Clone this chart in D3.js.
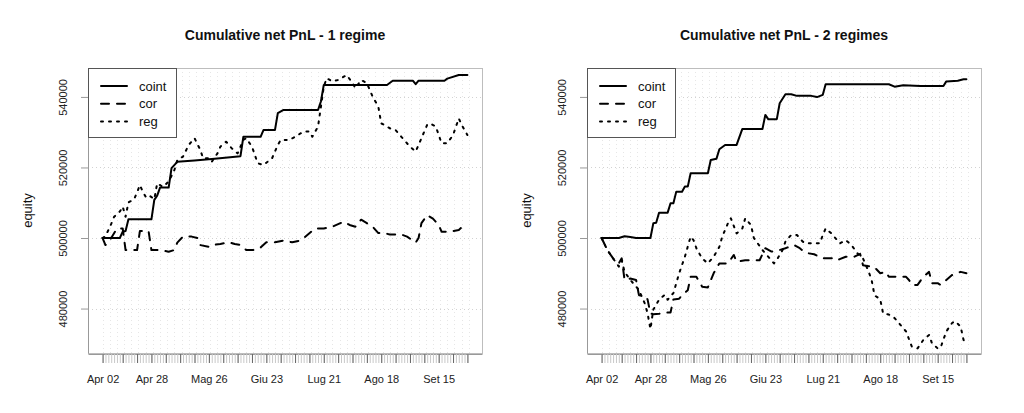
<!DOCTYPE html>
<html><head><meta charset="utf-8">
<script src="https://cdn.jsdelivr.net/npm/d3@7"></script>
<style>
body{margin:0;background:#fff}
svg{display:block}
text{font-family:"Liberation Sans",Arial,Helvetica,sans-serif}
</style>
</head><body>
<svg id="chart" width="1024" height="413"></svg>
<script>
// ---------- DATA ----------
const nObs = 128; // trading days, index 0..127
const tickIdx = [0, 17, 37, 57, 77, 97, 117];
const tickLabels = ["Apr 02", "Apr 28", "Mag 26", "Giu 23", "Lug 21", "Ago 18", "Set 15"];
const yTicks = [480000, 500000, 520000, 540000];
const yLimits = [467400, 548200];
const seriesNames = ["coint", "cor", "reg"];
const titles = ["Cumulative net PnL - 1 regime", "Cumulative net PnL - 2 regimes"];

// [trading-day index, equity]
const coint1 = [[0,500000],[6,500000],[7,501800],[8,502000],[9,505300],[17,505300],[18,510800],[19,512000],[20,514300],[23,514300],[24,519800],[26,521600],[32,522000],[39,522500],[48,523200],[49,528700],[55,528700],[56,530600],[60,530600],[61,535400],[63,536300],[75,536300],[76,538700],[77,543400],[99,543400],[101,544600],[108,544600],[109,543600],[110,544600],[119,544600],[120,545200],[124,546200],[127,546200]];
const cor1 = [[0,500000],[1,498000],[3,500000],[5,502700],[7,502700],[8,496600],[12,496600],[13,502000],[16,502000],[17,496600],[20,496600],[23,496100],[25,496600],[26,498700],[28,500400],[31,500400],[33,500000],[34,498000],[37,497500],[38,498000],[41,498300],[44,498800],[46,498300],[48,498000],[50,496600],[53,496600],[55,497300],[57,498800],[60,498800],[63,499300],[66,498800],[69,499300],[70,500000],[74,502700],[77,502700],[80,503200],[84,504650],[86,503700],[88,503200],[90,505200],[92,504200],[94,503200],[96,501400],[98,501400],[100,501000],[104,501000],[106,500400],[109,498700],[110,500000],[111,504200],[113,506500],[115,505500],[117,503700],[118,501800],[121,501800],[124,502300],[125,503000],[127,502600]];
const reg1 = [[0,500000],[1,500500],[3,504000],[4,506000],[6,507500],[7,508900],[8,506000],[9,510100],[11,511000],[13,515000],[14,513100],[15,511700],[16,512200],[18,511000],[19,515500],[21,514500],[23,516000],[25,519300],[26,522100],[28,523100],[30,526400],[32,528300],[34,525000],[35,522600],[37,522600],[38,521600],[40,524000],[41,525900],[43,527300],[45,525400],[47,524000],[49,527800],[50,528300],[52,525900],[54,521200],[56,520700],[59,522600],[61,526400],[62,527800],[65,527800],[67,528700],[70,530200],[72,530200],[73,528700],[75,531600],[76,537200],[77,542900],[78,545300],[80,544400],[82,544800],[85,546200],[87,543900],[88,542500],[90,544800],[92,543900],[94,540100],[96,537200],[97,532500],[98,532100],[100,531100],[102,530600],[104,528700],[107,525900],[109,524500],[110,526400],[113,532100],[114,532500],[116,531600],[118,526900],[120,526900],[122,529200],[124,533900],[125,532100],[127,529200]];

const coint2 = [[0,500000],[6,500000],[8,500500],[10,500300],[12,500000],[17,500000],[18,504160],[19,504300],[20,507190],[23,507190],[24,509840],[25,509840],[26,513150],[28,513150],[29,514570],[30,514570],[31,518350],[37,518350],[38,522130],[40,522500],[41,525160],[43,526390],[47,526390],[49,530920],[56,530920],[57,534900],[58,533700],[61,533700],[62,538200],[64,540770],[66,540770],[68,540300],[73,540300],[75,539950],[77,540600],[78,543600],[100,543600],[102,542900],[105,543300],[111,543100],[119,543100],[120,544400],[124,544600],[126,545000],[127,545000]];
const cor2 = [[0,500000],[2,496600],[4,494240],[6,492800],[7,494240],[8,488100],[10,488500],[12,488100],[13,483800],[15,483600],[16,482600],[17,478600],[18,478400],[20,478500],[23,478900],[24,478900],[25,482600],[27,482800],[28,483800],[30,485200],[31,489000],[33,489000],[35,486200],[37,486000],[39,490000],[41,492800],[44,492800],[46,495200],[47,493300],[50,493700],[55,493700],[57,497100],[59,496200],[60,496200],[62,496600],[64,497100],[67,498000],[69,497100],[71,495800],[74,495400],[77,494240],[81,494240],[82,493700],[85,494700],[88,494700],[90,495500],[91,492300],[93,492000],[95,491700],[97,490000],[99,490400],[100,489000],[106,489000],[107,488100],[108,486700],[110,486700],[112,489000],[114,490400],[115,487200],[117,487200],[118,486700],[120,488100],[122,489500],[125,490400],[127,490000]];
const reg2 = [[0,500000],[2,496600],[4,494200],[6,491900],[7,493700],[8,490400],[10,488100],[13,485300],[15,481500],[16,478700],[17,474200],[18,479700],[20,482500],[22,483900],[23,482500],[25,484400],[27,490000],[29,494700],[31,500400],[32,499400],[33,497100],[35,494200],[37,492800],[39,494700],[41,497500],[42,500400],[44,504200],[45,505600],[47,501300],[49,502700],[50,505600],[52,503700],[53,500000],[56,496600],[58,494700],[60,492800],[61,493800],[63,496600],[64,499000],[66,500850],[68,500850],[70,499000],[71,498500],[74,498500],[76,498500],[77,500850],[78,502700],[80,501300],[82,499400],[83,498500],[85,499400],[87,498000],[89,495700],[91,494200],[93,490400],[94,488100],[95,483800],[97,482600],[98,478600],[100,478300],[102,477300],[104,475400],[106,473500],[108,469200],[110,468700],[112,471100],[114,472500],[115,470200],[117,468700],[118,468900],[120,473500],[122,475900],[123,476400],[125,474900],[126,471100],[127,470200]];

// ---------- LAYOUT ----------
const svg = d3.select("#chart");
const boxTop = 68, boxH = 285, boxW = 394;
const panels = [
  {left: 88, title: titles[0], series: [coint1, cor1, reg1]},
  {left: 587, title: titles[1], series: [coint2, cor2, reg2]}
];
const styles = [
  {dash: null},
  {dash: "8,8"},
  {dash: "2,6"}
];
const pad = 0.04 * (nObs - 1);

panels.forEach(p => {
  const g = svg.append("g");
  const x = d3.scaleLinear().domain([-pad, nObs - 1 + pad]).range([p.left, p.left + boxW]);
  const y = d3.scaleLinear().domain(yLimits).range([boxTop + boxH, boxTop]);

  // grid
  const grid = g.append("g").attr("stroke-width", 1).attr("stroke-dasharray", "1,3");
  grid.selectAll("line.h").data(yTicks).join("line")
    .attr("stroke", "#d2d2d2")
    .attr("x1", p.left).attr("x2", p.left + boxW)
    .attr("y1", d => Math.round(y(d)) + 0.5).attr("y2", d => Math.round(y(d)) + 0.5);
  const vg = d3.range(0, nObs, 2.5);
  grid.selectAll("line.v").data(vg).join("line")
    .attr("stroke", "#e6e6e6")
    .attr("x1", d => Math.round(x(d)) + 0.5).attr("x2", d => Math.round(x(d)) + 0.5)
    .attr("y1", boxTop).attr("y2", boxTop + boxH);

  // box
  g.append("rect").attr("x", p.left + 0.5).attr("y", boxTop + 0.5)
    .attr("width", boxW).attr("height", boxH)
    .attr("fill", "none").attr("stroke", "#bdbdbd").attr("stroke-width", 1);

  // x axis: minor ticks each observation
  const axY = boxTop + boxH + 1;
  const minor = g.append("g").attr("transform", `translate(0,${axY})`)
    .call(d3.axisBottom(x).tickValues(d3.range(nObs)).tickSize(9).tickSizeOuter(0).tickFormat(""));
  minor.select(".domain").attr("stroke", "#999");
  minor.selectAll(".tick line").attr("stroke", "#c8c8c8");
  const majorVals = d3.range(nObs).filter(i => i === 0 || (i >= 7 && (i - 2) % 5 === 0));
  const major = g.append("g").attr("transform", `translate(0,${axY})`)
    .call(d3.axisBottom(x).tickValues(majorVals).tickSize(9).tickSizeOuter(0).tickFormat(""));
  major.select(".domain").remove();
  major.selectAll(".tick line").attr("stroke", "#666");
  const lab = g.append("g").attr("transform", `translate(0,${axY})`)
    .call(d3.axisBottom(x).tickValues(tickIdx).tickSize(0).tickPadding(0)
      .tickFormat((d, i) => tickLabels[i]));
  lab.select(".domain").remove();
  lab.selectAll("text").attr("y", 29).attr("dy", 0).attr("font-size", 11).attr("fill", "#222")
    .attr("font-family", "Liberation Sans, Arial, sans-serif");

  // y axis
  const ya = g.append("g").attr("transform", `translate(${p.left},0)`)
    .call(d3.axisLeft(y).tickValues(yTicks).tickSize(7).tickSizeOuter(0).tickFormat(d3.format("d")));
  ya.select(".domain").attr("stroke", "#999");
  ya.selectAll(".tick line").attr("stroke", "#999");
  ya.selectAll(".tick text")
    .attr("x", 0).attr("y", 0).attr("dy", 0)
    .attr("transform", "translate(-21,0) rotate(-90)")
    .attr("text-anchor", "middle")
    .attr("font-size", 11).attr("fill", "#222")
    .attr("font-family", "Liberation Sans, Arial, sans-serif");

  g.append("text").attr("transform", `translate(${p.left - 56},${boxTop + boxH / 2}) rotate(-90)`)
    .attr("text-anchor", "middle").attr("font-size", 13).attr("fill", "#111").text("equity");

  // title
  g.append("text").attr("x", p.left + boxW / 2).attr("y", 40)
    .attr("text-anchor", "middle").attr("font-size", 14).attr("font-weight", "bold")
    .attr("fill", "#111").text(p.title);

  // lines
  const line = d3.line().x(d => x(d[0])).y(d => y(d[1]));
  p.series.forEach((s, i) => {
    g.append("path").datum(s).attr("d", line)
      .attr("fill", "none").attr("stroke", "#000").attr("stroke-width", 2)
      .attr("stroke-linecap", "round").attr("stroke-linejoin", "round")
      .attr("stroke-dasharray", styles[i].dash);
  });

  // legend
  const lg = g.append("g");
  lg.append("rect").attr("x", p.left + 0.5).attr("y", boxTop + 0.5).attr("width", 88).attr("height", 69)
    .attr("fill", "#fff").attr("stroke", "#555").attr("stroke-width", 1);
  seriesNames.forEach((nm, i) => {
    const yy = boxTop + 18 + i * 17.8;
    lg.append("line").attr("x1", p.left + 13).attr("x2", p.left + 39)
      .attr("y1", yy).attr("y2", yy)
      .attr("stroke", "#000").attr("stroke-width", 2).attr("stroke-linecap", "round")
      .attr("stroke-dasharray", styles[i].dash);
    lg.append("text").attr("x", p.left + 51).attr("y", yy).attr("dy", "0.35em")
      .attr("font-size", 13).attr("fill", "#111").text(nm);
  });
});
</script>
</body></html>
